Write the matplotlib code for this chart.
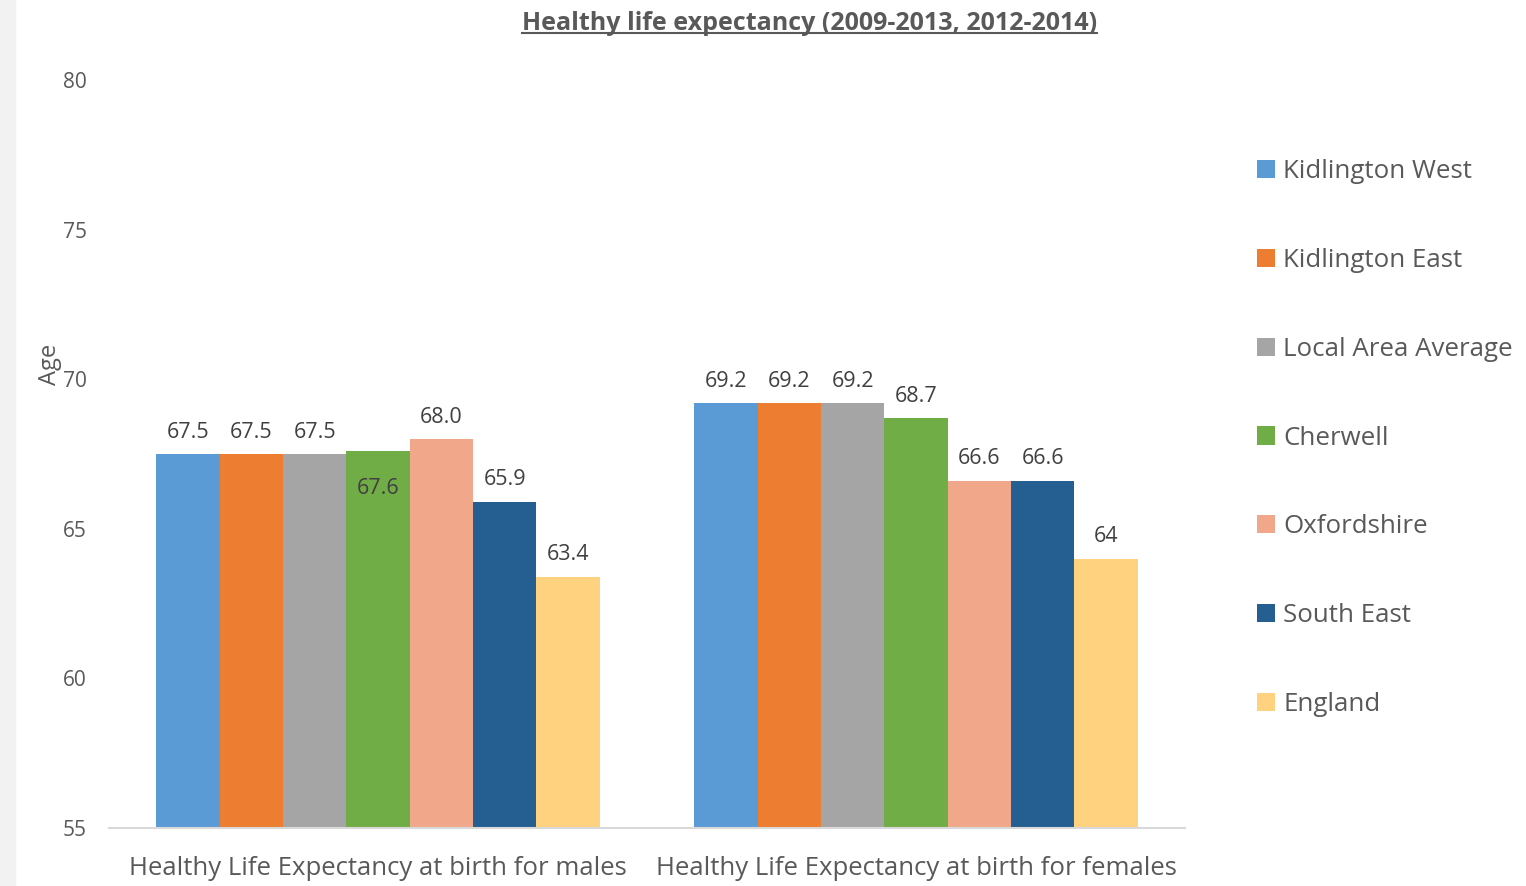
import numpy as np
import matplotlib.pyplot as plt
from matplotlib.patches import Rectangle
from matplotlib.lines import Line2D

plt.rcParams['font.family'] = ['Open Sans', 'DejaVu Sans']

categories = ["Healthy Life Expectancy at birth for males",
              "Healthy Life Expectancy at birth for females"]
areas = ["Kidlington West", "Kidlington East", "Local Area Average",
         "Cherwell", "Oxfordshire", "South East", "England"]
males = [67.5, 67.5, 67.5, 67.6, 68.0, 65.9, 63.4]
females = [69.2, 69.2, 69.2, 68.7, 66.6, 66.6, 64.0]
male_labels = ["67.5", "67.5", "67.5", "67.6", "68.0", "65.9", "63.4"]
female_labels = ["69.2", "69.2", "69.2", "68.7", "66.6", "66.6", "64"]
colors = ["#5B9BD5", "#ED7D31", "#A5A5A5", "#70AD47",
          "#F1A78A", "#255E91", "#FFD280"]

txt_col = "#595959"
fig = plt.figure(figsize=(15.26, 8.86), dpi=100)
# grey strip down the left edge
fig.patches.append(Rectangle((0, 0), 15 / 1526, 1, transform=fig.transFigure,
                             color="#F2F2F2", zorder=0))
ax = fig.add_axes([109 / 1526, 1 - 828 / 886, 1076 / 1526, 748 / 886])

x = np.arange(len(categories))
w = 0.1177
for i, area in enumerate(areas):
    vals = [males[i], females[i]]
    labs = [male_labels[i], female_labels[i]]
    pos = x + (i - 3) * w
    ax.bar(pos, vals, w, bottom=0, color=colors[i], label=area, zorder=2)
    for px, v, lab in zip(pos, vals, labs):
        if area == "Cherwell" and v == 67.6:
            ax.annotate(lab, (px, v), xytext=(0, -37), textcoords="offset pixels",
                        ha="center", va="center", fontsize=15.5, color="#404040")
        else:
            ax.annotate(lab, (px, v), xytext=(0, 22), textcoords="offset pixels",
                        ha="center", va="center", fontsize=15.5, color="#404040")

ax.set_ylim(55, 80)
ax.set_xlim(-0.5, 1.5)
ax.set_yticks([55, 60, 65, 70, 75, 80])
ax.set_xticks(x)
ax.set_xticklabels(categories, fontsize=18.5, color=txt_col)
ax.tick_params(axis="both", length=0)
ax.tick_params(axis="y", labelsize=15, labelcolor=txt_col, pad=16)
ax.tick_params(axis="x", pad=20)
for s in ["top", "right", "left"]:
    ax.spines[s].set_visible(False)
ax.spines["bottom"].set_color("#D9D9D9")
ax.spines["bottom"].set_linewidth(1.5)

fig.text(50 / 1526, 1 - 364 / 886, "Age", rotation=90, ha="center", va="center",
         fontsize=17, color=txt_col)

title = fig.text(809.5 / 1526, 1 - 24 / 886, "Healthy life expectancy (2009-2013, 2012-2014)",
                 ha="center", va="center", fontsize=18, fontweight="bold", color=txt_col)

leg = fig.legend(loc="center left", bbox_to_anchor=(1234 / 1526, 1 - 438 / 886),
                 frameon=False, fontsize=18.6, handlelength=0.7, handleheight=0.7,
                 handletextpad=0.3, labelspacing=2.47, labelcolor=txt_col)

# underline the title
fig.canvas.draw()
bb = title.get_window_extent().transformed(fig.transFigure.inverted())
fig.lines.append(Line2D([bb.x0, bb.x1], [bb.y0 + 0.004, bb.y0 + 0.004],
                        transform=fig.transFigure, color=txt_col, linewidth=1.5))

fig.savefig("out.png", dpi=100)
